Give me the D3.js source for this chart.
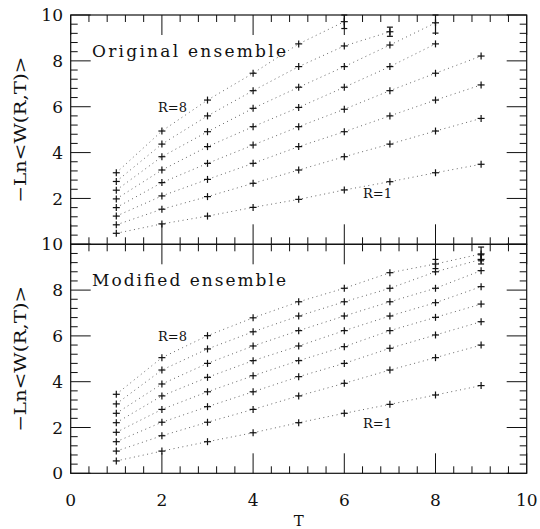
<!DOCTYPE html>
<html>
<head>
<meta charset="utf-8">
<script src="https://cdn.jsdelivr.net/npm/d3@7"></script>
<style>
  body { margin: 0; background: #fff; }
  svg { display: block; }
  text { font-family: "DejaVu Serif", serif; fill: #111; }
</style>
</head>
<body>
<div id="chart"></div>
<script>
// Euclidean time extent T, one series per loop size R=1..8
const tValues = [1, 2, 3, 4, 5, 6, 7, 8, 9];
const rLabels = ['R=1', 'R=2', 'R=3', 'R=4', 'R=5', 'R=6', 'R=7', 'R=8'];

const originalSeries = [
  [0.48, 0.89, 1.23, 1.61, 1.96, 2.37, 2.73, 3.12, 3.49],
  [0.85, 1.53, 2.08, 2.66, 3.24, 3.82, 4.37, 4.94, 5.49],
  [1.23, 2.11, 2.83, 3.53, 4.26, 4.91, 5.60, 6.29, 6.95],
  [1.60, 2.69, 3.53, 4.33, 5.13, 5.89, 6.70, 7.46, 8.21],
  [1.98, 3.24, 4.26, 5.13, 5.97, 6.85, 7.75, 8.74, null],
  [2.36, 3.82, 4.91, 5.93, 6.85, 7.75, 8.69, 9.66, null],
  [2.74, 4.37, 5.60, 6.70, 7.75, 8.65, 9.27, null, null],
  [3.12, 4.94, 6.29, 7.46, 8.74, 9.71, null, null, null]
];
const originalErrors = [
  { r: 8, t: 6, err: 0.30 },
  { r: 7, t: 7, err: 0.20 },
  { r: 6, t: 8, err: 0.45 }
];

const modifiedSeries = [
  [0.54, 0.97, 1.38, 1.77, 2.21, 2.62, 3.01, 3.42, 3.83],
  [0.97, 1.64, 2.23, 2.79, 3.38, 3.93, 4.51, 5.05, 5.60],
  [1.38, 2.23, 2.91, 3.56, 4.22, 4.80, 5.46, 6.04, 6.62],
  [1.79, 2.79, 3.56, 4.26, 4.92, 5.53, 6.23, 6.81, 7.39],
  [2.21, 3.38, 4.19, 4.92, 5.56, 6.23, 6.87, 7.45, 8.15],
  [2.62, 3.90, 4.80, 5.56, 6.23, 6.87, 7.49, 8.08, 8.85],
  [3.03, 4.51, 5.43, 6.18, 6.87, 7.49, 8.08, 8.80, 9.34],
  [3.45, 5.05, 6.01, 6.79, 7.49, 8.08, 8.76, 9.14, 9.58]
];
const modifiedErrors = [
  { r: 8, t: 8, err: 0.20 },
  { r: 8, t: 9, err: 0.30 },
  { r: 7, t: 9, err: 0.20 }
];

const majorTicks = [0, 2, 4, 6, 8, 10];
const minorTicks = d3.range(0, 10.01, 0.4).map(d => +d.toFixed(1));

const width = 540;
const height = 529;
const plotLeft = 70.7, plotRight = 526.7;
const plotTop = 15, plotMid = 244.3, plotBottom = 473.3;

const svg = d3.select('#chart').append('svg')
  .attr('width', width)
  .attr('height', height);

const x = d3.scaleLinear().domain([0, 10]).range([plotLeft, plotRight]);

const panels = [
  { name: 'Original ensemble', series: originalSeries, errors: originalErrors,
    y: d3.scaleLinear().domain([0, 10]).range([plotMid, plotTop]), hideZero: true,
    r8: [158, 112], r1: [363, 198] },
  { name: 'Modified ensemble', series: modifiedSeries, errors: modifiedErrors,
    y: d3.scaleLinear().domain([0, 10]).range([plotBottom, plotMid]), hideZero: false,
    r8: [158, 341], r1: [363, 428] }
];

const MAJ = 20, MIN = 7;

function drawTicks(g, list, fn) {
  list.forEach(v => fn(g, v, majorTicks.includes(v) ? MAJ : MIN));
}

panels.forEach(p => {
  const y = p.y;
  const y0 = y.range()[0], y1 = y.range()[1];
  const g = svg.append('g');

  // dotted connecting lines
  const line = d3.line()
    .defined(d => d.v !== null)
    .x(d => x(d.t))
    .y(d => y(d.v));
  g.selectAll('.fit')
    .data(p.series.map(s => s.map((v, i) => ({ t: tValues[i], v }))))
    .enter().append('path')
    .attr('fill', 'none')
    .attr('stroke', '#666')
    .attr('stroke-width', 1)
    .attr('stroke-dasharray', '1,3.5')
    .attr('d', line);

  // error bars
  p.errors.forEach(e => {
    const v = p.series[e.r - 1][e.t - 1];
    const cx = x(e.t);
    const ya = Math.max(y(v + e.err), y1), yb = y(v - e.err);
    g.append('line').attr('x1', cx).attr('x2', cx).attr('y1', ya).attr('y2', yb)
      .attr('stroke', '#111').attr('stroke-width', 1.2);
    [ya, yb].forEach(yy => g.append('line')
      .attr('x1', cx - 3).attr('x2', cx + 3).attr('y1', yy).attr('y2', yy)
      .attr('stroke', '#111').attr('stroke-width', 1.2));
  });

  // plus markers
  const pts = [];
  p.series.forEach(s => s.forEach((v, i) => { if (v !== null) pts.push({ t: tValues[i], v }); }));
  const marks = g.selectAll('.pt').data(pts).enter().append('g')
    .attr('transform', d => `translate(${x(d.t)},${y(d.v)})`);
  marks.append('line').attr('x1', -3.5).attr('x2', 3.5).attr('y1', 0).attr('y2', 0)
    .attr('stroke', '#111').attr('stroke-width', 1.2);
  marks.append('line').attr('x1', 0).attr('x2', 0).attr('y1', -3.5).attr('y2', 3.5)
    .attr('stroke', '#111').attr('stroke-width', 1.2);

  // frame
  g.append('rect')
    .attr('x', plotLeft).attr('y', y1)
    .attr('width', plotRight - plotLeft).attr('height', y0 - y1)
    .attr('fill', 'none').attr('stroke', '#111').attr('stroke-width', 1.2);

  // y ticks (left and right)
  drawTicks(g, minorTicks, (gg, v, len) => {
    gg.append('line').attr('x1', plotLeft).attr('x2', plotLeft + len).attr('y1', y(v)).attr('y2', y(v))
      .attr('stroke', '#111').attr('stroke-width', 1);
    gg.append('line').attr('x1', plotRight).attr('x2', plotRight - len).attr('y1', y(v)).attr('y2', y(v))
      .attr('stroke', '#111').attr('stroke-width', 1);
  });
  // x ticks (bottom and top of panel)
  drawTicks(g, minorTicks, (gg, v, len) => {
    gg.append('line').attr('x1', x(v)).attr('x2', x(v)).attr('y1', y0).attr('y2', y0 - len)
      .attr('stroke', '#111').attr('stroke-width', 1);
    gg.append('line').attr('x1', x(v)).attr('x2', x(v)).attr('y1', y1).attr('y2', y1 + len)
      .attr('stroke', '#111').attr('stroke-width', 1);
  });

  // y tick labels
  g.selectAll('.ylab')
    .data(majorTicks.filter(v => !(p.hideZero && v === 0)))
    .enter().append('text')
    .attr('x', 63).attr('y', v => y(v))
    .attr('dy', '0.36em')
    .attr('text-anchor', 'end')
    .style('font-size', '17px')
    .text(v => v);

  // y axis title
  g.append('text')
    .attr('transform', `translate(26,${(y0 + y1) / 2}) rotate(-90)`)
    .attr('text-anchor', 'middle')
    .attr('textLength', 146)
    .attr('lengthAdjust', 'spacingAndGlyphs')
    .style('font-size', '17px')
    .text('\u2212Ln<W(R,T)>');

  // panel title
  g.append('text')
    .attr('x', 92).attr('y', y1 + 41.5)
    .attr('textLength', 194)
    .attr('lengthAdjust', 'spacing')
    .style('font-size', '17px')
    .text(p.name);

  // series labels
  g.append('text').attr('x', p.r8[0]).attr('y', p.r8[1])
    .style('font-size', '13px').text(rLabels[7]);
  g.append('text').attr('x', p.r1[0]).attr('y', p.r1[1])
    .style('font-size', '13px').text(rLabels[0]);
});

// x tick labels and title
svg.selectAll('.xlab').data(majorTicks).enter().append('text')
  .attr('x', d => x(d)).attr('y', 506)
  .attr('text-anchor', 'middle')
  .style('font-size', '17px')
  .text(d => d);
svg.append('text')
  .attr('x', x(5)).attr('y', 526)
  .attr('text-anchor', 'middle')
  .style('font-size', '15px')
  .text('T');
</script>
</body>
</html>
